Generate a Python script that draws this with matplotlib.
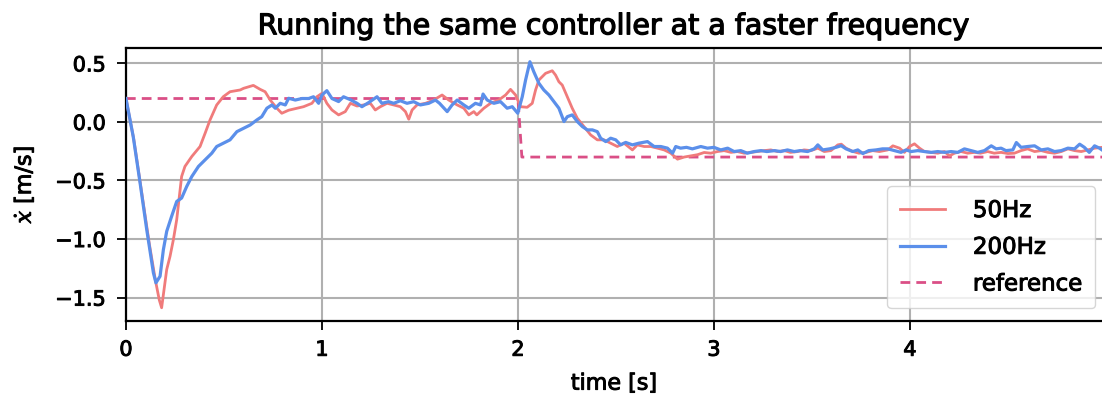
import matplotlib
matplotlib.use("Agg")
import matplotlib.pyplot as plt
import matplotlib.patheffects as pe
import numpy as np

plt.rcParams['font.family'] = ['DejaVu Sans']
plt.rcParams['mathtext.fontset'] = 'dejavuserif'

# 50 Hz controller run: velocity samples (time [s], xdot [m/s])
t_50 = [0.0, 0.04, 0.08, 0.12, 0.15, 0.17, 0.182, 0.208, 0.225, 0.242, 0.259, 0.276,
        0.284, 0.301, 0.336, 0.378, 0.404, 0.429, 0.463, 0.497, 0.531, 0.583, 0.60,
        0.65, 0.685, 0.71, 0.736, 0.77, 0.795, 0.83, 0.872, 0.906, 0.949, 0.974, 1.0,
        1.025, 1.051, 1.085, 1.119, 1.145, 1.179, 1.213, 1.247, 1.272, 1.298, 1.332,
        1.366, 1.40, 1.426, 1.443, 1.46, 1.485, 1.528, 1.57, 1.613, 1.647, 1.69, 1.724,
        1.749, 1.775, 1.79, 1.826, 1.86, 1.902, 1.937, 1.962, 1.988, 2.013, 2.047,
        2.073, 2.09, 2.107, 2.141, 2.175, 2.192, 2.209, 2.226, 2.252, 2.277, 2.303,
        2.337, 2.371, 2.405, 2.439, 2.473, 2.507, 2.541, 2.584, 2.609, 2.644, 2.678,
        2.712, 2.746, 2.78, 2.814, 2.848, 2.882, 2.916, 2.95, 2.984, 3.018, 3.052,
        3.087, 3.12, 3.154, 3.19, 3.22, 3.256, 3.29, 3.325, 3.36, 3.39, 3.427, 3.46,
        3.495, 3.53, 3.563, 3.597, 3.632, 3.65, 3.674, 3.71, 3.74, 3.776, 3.81, 3.844,
        3.887, 3.913, 3.947, 3.972, 3.998, 4.023, 4.049, 4.074, 4.108, 4.142, 4.176,
        4.202, 4.227, 4.261, 4.295, 4.33, 4.36, 4.397, 4.43, 4.465, 4.50, 4.533, 4.567,
        4.60, 4.636, 4.67, 4.704, 4.738, 4.772, 4.806, 4.84, 4.874, 4.908, 4.942, 4.98]
v_50 = [0.20, -0.15, -0.60, -1.05, -1.35, -1.52, -1.587, -1.26, -1.147, -1.005, -0.834,
        -0.579, -0.466, -0.38, -0.295, -0.21, -0.096, 0.017, 0.145, 0.216, 0.258, 0.273,
        0.287, 0.312, 0.278, 0.258, 0.187, 0.117, 0.074, 0.10, 0.117, 0.13, 0.159, 0.215,
        0.244, 0.159, 0.102, 0.06, 0.088, 0.159, 0.136, 0.145, 0.159, 0.102, 0.13, 0.159,
        0.145, 0.13, 0.088, 0.023, 0.102, 0.145, 0.159, 0.187, 0.23, 0.187, 0.145, 0.117,
        0.06, 0.088, 0.06, 0.117, 0.159, 0.187, 0.23, 0.278, 0.23, 0.13, 0.125, 0.159,
        0.273, 0.358, 0.415, 0.437, 0.40, 0.343, 0.315, 0.215, 0.117, 0.031, -0.04,
        -0.111, -0.153, -0.153, -0.181, -0.21, -0.181, -0.239, -0.196, -0.21, -0.21,
        -0.224, -0.239, -0.267, -0.318, -0.30, -0.29, -0.28, -0.261, -0.267, -0.253,
        -0.245, -0.26, -0.253, -0.267, -0.26, -0.253, -0.245, -0.239, -0.253, -0.245,
        -0.26, -0.253, -0.239, -0.245, -0.224, -0.253, -0.245, -0.196, -0.19, -0.224,
        -0.253, -0.267, -0.26, -0.245, -0.253, -0.239, -0.204, -0.224, -0.26, -0.21,
        -0.187, -0.224, -0.253, -0.26, -0.267, -0.253, -0.29, -0.267, -0.253, -0.267,
        -0.26, -0.267, -0.253, -0.267, -0.26, -0.27, -0.267, -0.245, -0.23, -0.253,
        -0.245, -0.26, -0.267, -0.253, -0.23, -0.245, -0.253, -0.239, -0.224, -0.217]

# 200 Hz controller run
t_200 = [0.0, 0.037, 0.072, 0.106, 0.14, 0.153, 0.174, 0.191, 0.208, 0.233, 0.259,
         0.284, 0.31, 0.336, 0.37, 0.404, 0.438, 0.463, 0.497, 0.531, 0.566, 0.60,
         0.634, 0.668, 0.693, 0.719, 0.745, 0.762, 0.787, 0.813, 0.83, 0.864, 0.898,
         0.932, 0.957, 0.983, 1.0, 1.025, 1.051, 1.085, 1.11, 1.145, 1.179, 1.204,
         1.238, 1.281, 1.306, 1.34, 1.366, 1.40, 1.434, 1.468, 1.502, 1.545, 1.579,
         1.60, 1.639, 1.664, 1.69, 1.724, 1.749, 1.783, 1.809, 1.822, 1.843, 1.877,
         1.911, 1.945, 1.971, 1.999, 2.022, 2.039, 2.061, 2.081, 2.107, 2.132, 2.158,
         2.184, 2.209, 2.235, 2.252, 2.277, 2.303, 2.329, 2.354, 2.38, 2.405, 2.422,
         2.448, 2.473, 2.499, 2.524, 2.55, 2.584, 2.618, 2.661, 2.695, 2.729, 2.763,
         2.789, 2.805, 2.83, 2.86, 2.89, 2.933, 2.967, 3.0, 3.035, 3.07, 3.103, 3.137,
         3.17, 3.205, 3.24, 3.27, 3.31, 3.34, 3.375, 3.41, 3.44, 3.478, 3.512, 3.53,
         3.555, 3.59, 3.623, 3.649, 3.674, 3.708, 3.734, 3.76, 3.79, 3.827, 3.86,
         3.887, 3.92, 3.955, 3.98, 4.006, 4.04, 4.074, 4.108, 4.142, 4.176, 4.21,
         4.244, 4.278, 4.312, 4.346, 4.38, 4.415, 4.44, 4.465, 4.49, 4.525, 4.543,
         4.567, 4.60, 4.636, 4.67, 4.704, 4.738, 4.772, 4.806, 4.84, 4.866, 4.89,
         4.915, 4.942, 4.967, 4.985]
v_200 = [0.20, -0.125, -0.52, -0.92, -1.289, -1.374, -1.318, -1.09, -0.934, -0.806,
         -0.679, -0.65, -0.551, -0.466, -0.38, -0.324, -0.267, -0.21, -0.181, -0.153,
         -0.083, -0.054, -0.026, 0.017, 0.045, 0.117, 0.145, 0.117, 0.159, 0.145,
         0.202, 0.187, 0.20, 0.20, 0.215, 0.159, 0.23, 0.267, 0.20, 0.174, 0.215, 0.19,
         0.159, 0.13, 0.165, 0.215, 0.159, 0.173, 0.159, 0.181, 0.159, 0.173, 0.145,
         0.159, 0.187, 0.159, 0.088, 0.145, 0.187, 0.145, 0.117, 0.159, 0.145, 0.238,
         0.187, 0.159, 0.173, 0.117, 0.13, 0.074, 0.215, 0.358, 0.514, 0.428, 0.33,
         0.273, 0.23, 0.173, 0.117, 0.003, 0.045, 0.06, 0.003, -0.04, -0.068, -0.068,
         -0.083, -0.139, -0.168, -0.139, -0.153, -0.196, -0.175, -0.196, -0.181, -0.168,
         -0.21, -0.21, -0.224, -0.267, -0.21, -0.224, -0.217, -0.23, -0.21, -0.224,
         -0.217, -0.239, -0.224, -0.253, -0.245, -0.267, -0.253, -0.245, -0.253, -0.245,
         -0.253, -0.239, -0.253, -0.245, -0.253, -0.23, -0.196, -0.239, -0.23, -0.217,
         -0.203, -0.23, -0.253, -0.239, -0.27, -0.245, -0.239, -0.23, -0.23, -0.245,
         -0.26, -0.239, -0.253, -0.245, -0.253, -0.26, -0.253, -0.26, -0.253, -0.26,
         -0.23, -0.245, -0.26, -0.245, -0.204, -0.23, -0.224, -0.245, -0.239, -0.176,
         -0.217, -0.21, -0.204, -0.239, -0.23, -0.253, -0.245, -0.224, -0.23, -0.19,
         -0.217, -0.26, -0.204, -0.224, -0.245]

# Commanded velocity: step from 0.2 to -0.3 m/s at t = 2 s
t_ref = [0.0, 2.0, 2.02, 4.98]
v_ref = [0.2, 0.2, -0.3, -0.3]

fig = plt.figure(figsize=(11.02, 4.03), dpi=100)
ax = fig.add_axes([0.1143, 0.2035, 0.8857, 0.677])

ax.plot(t_50, v_50, color='#F07B7B', lw=2.0, label='50Hz', zorder=3)
ax.plot(t_200, v_200, color='#5B8FEA', lw=2.3, label='200Hz', zorder=4)
ax.plot(t_ref, v_ref, color='#DA4F86', lw=2.0, ls=(0, (3.5, 2.2)), label='reference', zorder=2)

ax.set_xlim(0, 4.98)
ax.set_ylim(-1.70, 0.63)
ax.set_xticks([0, 1, 2, 3, 4])
ax.set_yticks([-1.5, -1.0, -0.5, 0.0, 0.5])
ax.grid(True, color='#b0b0b0', lw=1.5)
ax.set_axisbelow(True)
for s in ax.spines.values():
    s.set_linewidth(1.6)
ax.spines['right'].set_visible(False)
ax.tick_params(labelsize=15, width=1.3, length=6.5)
ax.tick_params(axis='y', pad=8)
ax.tick_params(axis='x', pad=7)

# slightly heavier glyph strokes for all text
thick = [pe.withStroke(linewidth=0.7, foreground='black')]

ttl = ax.set_title('Running the same controller at a faster frequency', fontsize=20.5,
                   pad=10)
ttl.set_path_effects([pe.withStroke(linewidth=0.9, foreground='black')])
ax.set_xlabel('time [s]', fontsize=16, labelpad=10).set_path_effects(thick)
ax.set_ylabel(r'$\dot{x}$ [m/s]', fontsize=16, labelpad=14).set_path_effects(thick)
for lbl in ax.get_xticklabels() + ax.get_yticklabels():
    lbl.set_path_effects(thick)

leg = ax.legend(loc='lower right', fontsize=16.5, framealpha=0.8, borderpad=0.55,
                handlelength=2.0, handletextpad=1.2, labelspacing=0.6,
                borderaxespad=0.3, edgecolor='#cccccc', bbox_to_anchor=(1.0, 0.022))
for txt in leg.get_texts():
    txt.set_path_effects(thick)

fig.savefig('out.png', dpi=100)
